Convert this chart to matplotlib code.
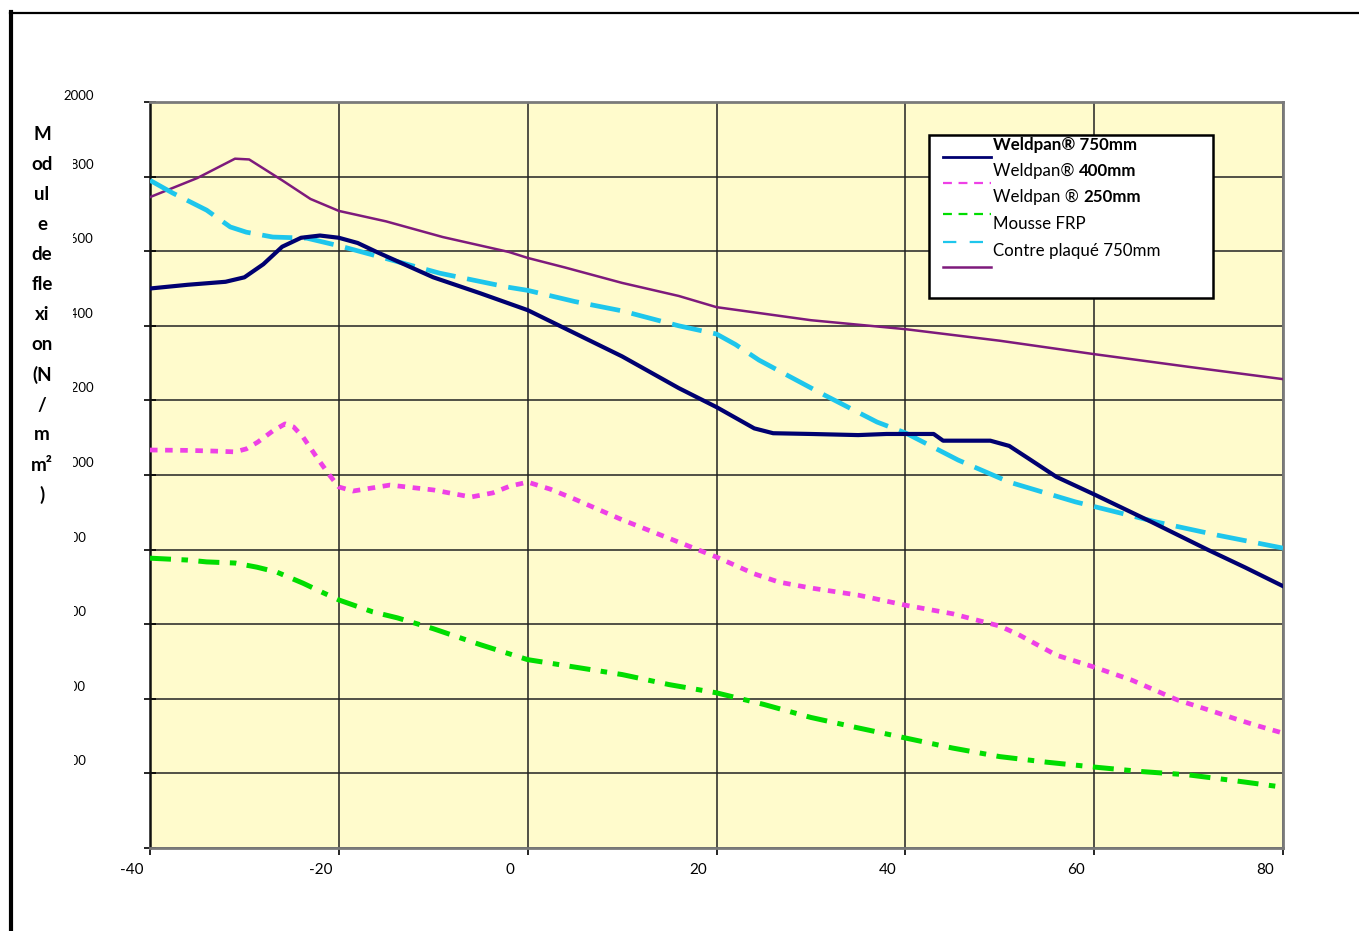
import matplotlib.pyplot as plt
from matplotlib.lines import Line2D
from matplotlib.patches import Rectangle
from matplotlib.text import Annotation
from matplotlib.transforms import Bbox, ScaledTranslation, blended_transform_factory

plt.rcParams['font.family'] = ['Lato', 'DejaVu Sans']
plt.rcParams['axes.unicode_minus'] = False

W, H = 1359, 931

# data (temperature in °C, modulus in N/mm²)
temp_750 = [-40, -36, -32, -30, -28, -26, -24, -22, -20, -18, -16, -10, -5, 0, 5, 10, 16, 20,
            24, 26, 30, 35, 38, 43, 44, 49, 51, 53, 56, 60, 66, 72, 76, 80]
weldpan_750 = [1500, 1510, 1518, 1530, 1565, 1612, 1636, 1642, 1636, 1622, 1598, 1530, 1487, 1442,
               1380, 1318, 1233, 1182, 1125, 1112, 1110, 1107, 1110, 1110, 1092, 1092, 1078, 1045,
               995, 948, 875, 800, 752, 702]

temp_400 = [-40, -36, -33, -31, -29.8, -28.6, -27, -25.7, -24.8, -23.8, -22.3, -21, -20, -18.5,
            -14.6, -10, -6, -3.7, -1.9, 0, 2.4, 5, 10, 16.8, 20, 24, 26.6, 30, 35, 40, 45, 50,
            52, 56, 60, 64, 68.8, 72.5, 75, 77, 80]
weldpan_400 = [1067, 1066, 1064, 1062, 1070, 1088, 1118, 1137, 1129, 1102, 1046, 1000, 968, 957,
               973, 960, 941, 952, 970, 981, 962, 935, 880, 812, 780, 735, 713, 697, 678, 651,
               628, 595, 572, 517, 485, 450, 397, 367, 346, 330, 308]

temp_frp = [-40, -36, -34, -31, -28.7, -26.6, -23.8, -21.8, -20, -16.4, -13.8, -10, -5, 0, 5, 10,
            15, 20, 25, 30, 35, 40, 45, 50, 55, 60, 65, 70, 75, 80]
mousse_frp = [777, 772, 767, 764, 753, 740, 710, 686, 665, 633, 617, 588, 545, 505, 485, 465,
              438, 416, 385, 350, 322, 295, 268, 245, 230, 217, 205, 196, 180, 163]

temp_cp = [-40, -37.6, -34, -31.5, -29.8, -27, -23.4, -19.9, -16.4, -9.3, -2.2, 0, 5, 10, 16, 20,
           22, 24.5, 31, 37, 40, 45.6, 51, 58, 66.6, 73, 80]
contre_plaque = [1790, 1756, 1710, 1665, 1651, 1638, 1635, 1614, 1590, 1541, 1504, 1495, 1465,
                 1440, 1400, 1378, 1350, 1308, 1220, 1142, 1113, 1040, 981, 928, 874, 839, 804]

temp_250 = [-40, -35, -31, -29.5, -26, -23, -20, -15, -9, -2, 0, 4, 10, 16, 20, 30, 40, 50, 60,
            70, 80]
weldpan_250 = [1745, 1796, 1848, 1846, 1790, 1740, 1708, 1680, 1638, 1598, 1582, 1556, 1515, 1480,
               1450, 1415, 1391, 1360, 1324, 1290, 1257]

x_ticks = [-40, -20, 0, 20, 40, 60, 80]
y_ticks = list(range(0, 2001, 200))
ylabel_parts = ['M', 'od', 'ul', 'e', 'de', 'fle', 'xi', 'on', '(N', '/', 'm', 'm²', ')']


def fx(px):
    return px / W


def fy(py):
    return 1 - py / H


fig = plt.figure(figsize=(W / 100, H / 100), dpi=100)
ax = fig.add_axes([fx(150), fy(848), (1283 - 150) / W, (848 - 102) / H])
ax.set_facecolor('#FFFBCC')

ax.plot(temp_250, weldpan_250, color='#7E1A7C', lw=1.8, zorder=3)
ax.plot(temp_cp, contre_plaque, color='#1EC6EC', lw=3.4, dashes=(6.4, 2.5), zorder=3)
ax.plot(temp_750, weldpan_750, color='#000070', lw=3.0, zorder=4)
ax.plot(temp_400, weldpan_400, color='#EE40E6', lw=3.4, dashes=(1.6, 1.6), zorder=3)
ax.plot(temp_frp, mousse_frp, color='#00DD00', lw=3.6, dashes=(4.2, 2.1, 1.3, 2.1), zorder=3)

ax.set_xlim(-40, 80)
ax.set_ylim(0, 2000)
ax.set_xticks(x_ticks)
ax.set_yticks(y_ticks)
ax.set_yticklabels([])
ax.grid(True, color='#222222', lw=1.1)
ax.set_axisbelow(True)
ax.tick_params(axis='x', direction='out', length=5, width=1.2, pad=6, labelsize=11)
ax.tick_params(axis='y', direction='inout', length=8, width=1.2)
for lab in ax.get_xticklabels():
    lab.set_transform(lab.get_transform() + ScaledTranslation(-0.18, 0, fig.dpi_scale_trans))
for side in ['top', 'right', 'bottom']:
    ax.spines[side].set_color('#7a7a7a')
    ax.spines[side].set_linewidth(2)
ax.spines['left'].set_color('#111111')
ax.spines['left'].set_linewidth(1.8)

# y tick labels, partly hidden behind the axis title column as in the original
ytrans = blended_transform_factory(fig.transFigure, ax.transData)
for v in y_ticks[1:]:
    if v == 2000:
        t = fig.text(fx(94), v, str(v), transform=ytrans + ScaledTranslation(0, 0.06, fig.dpi_scale_trans),
                     ha='right', va='center', fontsize=9.5)
    elif v >= 1000:
        t = fig.text(fx(94), v, str(v), transform=ytrans + ScaledTranslation(0, 0.12, fig.dpi_scale_trans),
                     ha='right', va='center', fontsize=9.5)
        t.set_clip_box(Bbox.from_extents(73, 0, 200, H))
        t.set_clip_on(True)
    else:
        t = fig.text(fx(86), v, str(v), transform=ytrans + ScaledTranslation(0, 0.12, fig.dpi_scale_trans),
                     ha='right', va='center', fontsize=9.5)
        t.set_clip_box(Bbox.from_extents(74, 0, 200, H))
        t.set_clip_on(True)

# axis title written in narrow broken lines
for i, part in enumerate(ylabel_parts):
    fig.text(fx(42), fy(135 + 30 * i), part, ha='center', va='center', fontsize=13.5, fontweight='bold')

# outer frame
fig.add_artist(Line2D([fx(10), 1], [fy(13), fy(13)], transform=fig.transFigure, color='black', lw=1.6))
fig.add_artist(Line2D([fx(11), fx(11)], [fy(12), 0], transform=fig.transFigure, color='black', lw=3))

# legend box
fig.add_artist(Rectangle((fx(929), fy(298)), (1213 - 929) / W, (298 - 135) / H,
                         transform=fig.transFigure, facecolor='white', edgecolor='black', lw=1.8, zorder=5))
samples = [
    (157, '#000070', 2.0, None),
    (183, '#EE40E6', 1.6, (4, 3)),
    (214, '#00DD00', 1.6, (4, 3)),
    (242, '#1EC6EC', 1.6, (6, 6)),
    (267, '#7E1A7C', 1.8, None),
]
for yy, col, lw, dash in samples:
    ln = Line2D([fx(943), fx(991)], [fy(yy), fy(yy)], transform=fig.transFigure, color=col, lw=lw, zorder=6)
    if dash:
        ln.set_dashes(dash)
    fig.add_artist(ln)

fs_leg = 12.2
fig.text(fx(993), fy(150), 'Weldpan® 750mm', va='baseline', fontsize=fs_leg, fontweight='bold', zorder=6)
legend_mixed = [(176, 'Weldpan® ', '400mm'), (202, 'Weldpan ® ', '250mm')]
for yb, normal, bold in legend_mixed:
    t = fig.text(fx(993), fy(yb), normal, va='baseline', fontsize=fs_leg, zorder=6)
    fig.add_artist(Annotation(bold, xy=(1, fy(yb)), xycoords=(t, 'figure fraction'), va='baseline',
                              ha='left', fontsize=fs_leg, fontweight='bold', zorder=6))
fig.text(fx(993), fy(229), 'Mousse FRP', va='baseline', fontsize=fs_leg, zorder=6)
fig.text(fx(993), fy(256), 'Contre plaqué 750mm', va='baseline', fontsize=fs_leg, zorder=6)

fig.savefig('out.png', dpi=100)
